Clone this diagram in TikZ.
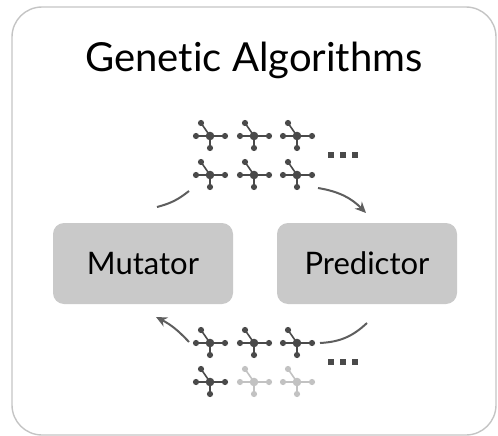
\documentclass[tikz,border=0pt]{standalone}
\usepackage{fontspec}
\setmainfont[Ligatures={NoCommon}]{Lato}
\usetikzlibrary{arrows.meta}
\definecolor{framegray}{HTML}{C4C4C4}
\definecolor{boxgray}{HTML}{C9C9C9}
\definecolor{atomdark}{HTML}{4A4A4A}
\definecolor{atomlight}{HTML}{C2C2C2}
\definecolor{arrowgray}{HTML}{5E5E5E}
\tikzset{
  frame/.style={draw=framegray, line width=1.4pt, rounded corners=30pt},
  stage/.style={fill=boxgray, rounded corners=11pt, minimum width=180pt,
    minimum height=81pt, inner sep=0pt, font=\fontsize{31}{36}\selectfont},
  flow/.style={draw=arrowgray, line width=2pt},
  flowtip/.style={flow, -{Stealth[length=11pt,width=10pt]}},
  more/.style={fill=atomdark, minimum size=6.5pt, inner sep=0pt},
  pics/mol/.style={code={
    \draw[draw=#1, line width=1.6pt]
      (-9,-13) -- (0,0) (-14,0) -- (15,0) (0,0) -- (0,12);
    \fill[#1] (0,0) circle (4.3pt);
    \foreach \p in {(-9,-13),(-14,0),(15,0),(0,12)}
      \fill[#1] \p circle (3.1pt);
  }},
}
\begin{document}
\begin{tikzpicture}[x=1pt,y=-1pt]
  \useasboundingbox (0,0) rectangle (498,436);
  % outer panel
  \draw[frame] (12,7) rectangle (496,435);
  \node[font=\fontsize{40}{46}\selectfont, anchor=base] (title) at (254,71) {Genetic Algorithms};

  % the two stages of the loop
  \node[stage] (mutator) at (143,263.5) {Mutator};
  \node[stage] (predictor) at (367,263.5) {Predictor};

  % current population
  \foreach \x in {210,254,297}{
    \pic at (\x,136) {mol=atomdark};
    \pic at (\x,175) {mol=atomdark};
  }
  \foreach \x [count=\i] in {331,343,355}
    \node[more] (topdot\i) at (\x,155) {};

  % mutated population
  \foreach \x in {210,254,297}
    \pic at (\x,343) {mol=atomdark};
  \pic at (210,382) {mol=atomdark};
  \pic at (254,382) {mol=atomlight};
  \pic at (297,382) {mol=atomlight};
  \foreach \x [count=\i] in {331,343,355}
    \node[more] (botdot\i) at (\x,362) {};

  % loop connectors
  \coordinate (mutout) at (157,207);
  \coordinate (popin) at (189,191);
  \coordinate (popout) at (318,188);
  \coordinate (predin) at (366,213);
  \coordinate (predout) at (367,323);
  \coordinate (newin) at (320,343);
  \coordinate (newout) at (189,342);
  \coordinate (mutin) at (156,317);
  \draw[flow] (mutout) to[bend right=12] (popin);
  \draw[flowtip] (popout) to[bend left=18] (predin);
  \draw[flow] (predout) to[bend left=20] (newin);
  \draw[flowtip] (newout) to[bend right=10] (mutin);
\end{tikzpicture}
\end{document}
